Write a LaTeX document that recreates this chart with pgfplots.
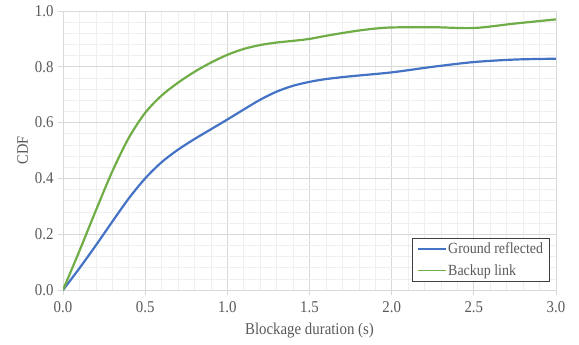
\documentclass[border=0pt]{standalone}
\usepackage{pgfplots}
\pgfplotsset{compat=1.18}
\usepackage{fontspec}
\setmainfont{Liberation Serif}[FakeStretch=0.9]
\definecolor{txt}{HTML}{595959}
\definecolor{blueline}{HTML}{4472C4}
\definecolor{greenline}{HTML}{70AD47}
\definecolor{majgrid}{HTML}{D9D9D9}
\definecolor{mingrid}{HTML}{EFEFEF}
\begin{document}
\begin{tikzpicture}
\begin{axis}[
  name=ax,
  scale only axis,
  width=493bp, height=279bp,
  xmin=0, xmax=3, ymin=0, ymax=1,
  xtick={0,0.5,...,3}, ytick={0,0.2,...,1},
  minor x tick num=4, minor y tick num=4,
  grid=both,
  major grid style={majgrid, line width=0.8bp},
  minor grid style={mingrid, line width=0.6bp},
  axis x line*=bottom, axis y line*=left,
  axis line style={majgrid, line width=0.8bp},
  tick style={majgrid, line width=0.8bp},
  tick align=outside,
  major tick length=5bp, minor tick length=0pt,
  /pgf/number format/assume math mode=true,
  /pgf/number format/.cd, fixed, fixed zerofill, precision=1,
  /pgfplots/.cd,
  ticklabel style={font=\fontsize{16.5bp}{18bp}\selectfont, text=txt},
  xticklabel style={yshift=-3bp},
  yticklabel style={xshift=-1bp},
  xlabel={Blockage duration (s)}, ylabel={CDF},
  xlabel style={font=\fontsize{16.5bp}{18bp}\selectfont, text=txt,
    at={(axis description cs:0.5,-0.147)}, anchor=center},
  ylabel style={font=\fontsize{16bp}{18bp}\selectfont, text=txt,
    at={(axis description cs:-0.082,0.5)}, anchor=center},
  legend cell align=left,
  legend style={at={(1,0)}, anchor=south east, xshift=-6bp, yshift=8bp,
    draw=black!75, line width=0.8bp, font=\fontsize{15.5bp}{17bp}\selectfont, text=txt,
    row sep=7bp, inner xsep=5bp, inner ysep=4bp,
    nodes={inner xsep=1.5bp, inner ysep=1bp}},
  legend image code/.code={\draw[#1, line width=1.5bp] (0bp,0bp) -- (28bp,0bp);},
]
\addplot[blueline, line width=2.2bp, smooth, tension=0.5] coordinates {
(0,0) (0.1,0.078) (0.2,0.16) (0.3,0.245) (0.4,0.328) (0.5,0.40) (0.6,0.458)
(0.7,0.503) (0.8,0.541) (0.9,0.576) (1.0,0.611) (1.1,0.647) (1.2,0.682)
(1.3,0.711) (1.4,0.732) (1.5,0.746) (1.6,0.756) (1.75,0.766)
(2.0,0.78) (2.25,0.80) (2.5,0.817) (2.75,0.826) (3.0,0.829)
};
\addlegendentry{Ground reflected}
\addplot[greenline, line width=2.2bp, smooth, tension=0.5] coordinates {
(0,0) (0.1,0.14) (0.2,0.285) (0.3,0.425) (0.4,0.545) (0.5,0.635) (0.6,0.697)
(0.7,0.743) (0.8,0.782) (0.9,0.815) (1.0,0.843) (1.1,0.864) (1.2,0.878)
(1.3,0.887) (1.4,0.893) (1.5,0.90) (1.6,0.911) (1.7,0.921) (1.8,0.93)
(1.9,0.937) (2.0,0.941) (2.25,0.942) (2.5,0.939) (2.75,0.955) (3.0,0.97)
};
\addlegendentry{Backup link}
\end{axis}
\pgfresetboundingbox
\path ([xshift=-63bp,yshift=-55bp]ax.south west) rectangle ([xshift=23bp,yshift=11bp]ax.north east);
\end{tikzpicture}
\end{document}
